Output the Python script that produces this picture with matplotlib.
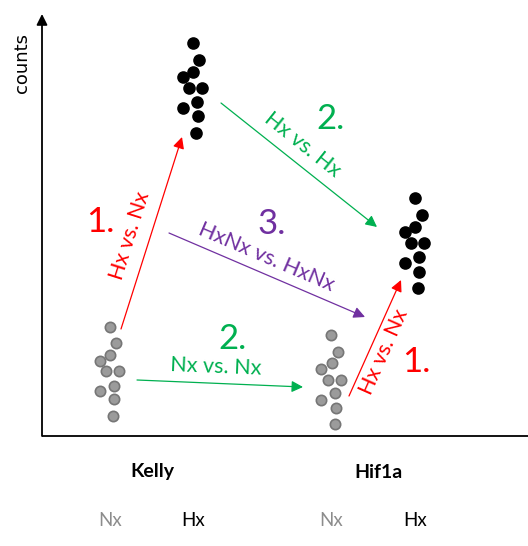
import matplotlib
matplotlib.use("Agg")
import matplotlib.pyplot as plt

plt.rcParams['font.family'] = ['Lato', 'DejaVu Sans']

# ---- data ----
groups = ["Kelly", "Hif1a"]
conditions = ["Nx", "Hx"]
group_centers = {"Kelly": (68, 151), "Hif1a": (289, 373)}

kelly_nx_offset = [0, 6, 0, -10, -4, 9, 4, -10, 4, 3]
kelly_nx_counts = [109, 93, 81, 75, 65, 65, 50, 45, 37, 20]
kelly_hx_offset = [0, 6, 0, -10, -4, 9, 4, -10, 5, 3]
kelly_hx_counts = [393, 376, 364, 359, 348, 348, 334, 328, 320, 303]
hif_nx_offset = [0, 7, 1, -10, -3, 10, 4, -10, 5, 4]
hif_nx_counts = [101, 84, 73, 67, 56, 56, 43, 36, 28, 12]
hif_hx_offset = [0, 7, 0, -10, -4, 9, 4, -10, 4, 3]
hif_hx_counts = [238, 221, 209, 204, 193, 193, 179, 173, 164, 148]

comp_labels = ["Hx vs. Nx", "Hx vs. Hx", "HxNx vs. HxNx", "Nx vs. Nx", "Hx vs. Nx"]
comp_numbers = ["1.", "2.", "3.", "2.", "1."]

W, H = 528, 546
fig = plt.figure(figsize=(5.28, 5.46), dpi=100)
ax = fig.add_axes([42 / W, (546 - 436) / H, (528 - 42) / W, (436 - 14) / H])
ax.set_xlim(0, 486)
ax.set_ylim(0, 422)
ax.axis('off')

gray_face = '#9b9b9b'
gray_edge = '#767676'

def dots(center, offs, counts, face, edge, s):
    ax.scatter([center + o for o in offs], counts, s=s, c=face,
               edgecolors=edge, linewidths=1.2, zorder=3, clip_on=False)

dots(group_centers["Kelly"][0], kelly_nx_offset, kelly_nx_counts, gray_face, gray_edge, 55)
dots(group_centers["Kelly"][1], kelly_hx_offset, kelly_hx_counts, 'black', 'black', 62)
dots(group_centers["Hif1a"][0], hif_nx_offset, hif_nx_counts, gray_face, gray_edge, 55)
dots(group_centers["Hif1a"][1], hif_hx_offset, hif_hx_counts, 'black', 'black', 62)

# axes
ax.annotate('', xy=(0, 422), xytext=(0, 0), annotation_clip=False,
            arrowprops=dict(arrowstyle='-|>', color='black', lw=1.3,
                            mutation_scale=16, shrinkA=0, shrinkB=0))
ax.plot([0, 490], [0, 0], color='black', lw=1.3, clip_on=False, solid_capstyle='butt')

red = '#ff0000'
green = '#00b050'
purple = '#7030a0'

arrows = [
    ((79, 107), (140, 299), red),
    ((179, 333), (335, 209), green),
    ((127, 203), (323, 119), purple),
    ((95, 56), (261, 49), green),
    ((307, 40), (359, 156), red),
]
for (s, e, col) in arrows:
    ax.annotate('', xy=e, xytext=s, annotation_clip=False,
                arrowprops=dict(arrowstyle='-|>', color=col, lw=0.9,
                                mutation_scale=17, shrinkA=0, shrinkB=0))

label_pos = [(88, 200, 72.4), (260, 291, -38.5), (224, 179, -23.2), (174, 69, -2.3), (342, 84, 66)]
label_cols = [red, green, purple, green, red]
for (x, y, r), txt, col in zip(label_pos, comp_labels, label_cols):
    ax.text(x, y, txt, color=col, fontsize=15.5, rotation=r, rotation_mode='anchor',
            ha='center', va='center', clip_on=False)

num_pos = [(58, 214), (288, 317), (230, 212), (191, 97), (374, 74)]
for (x, y), txt, col in zip(num_pos, comp_numbers, label_cols):
    ax.text(x, y, txt, color=col, fontsize=25, ha='center', va='center', clip_on=False)

# axis label
ax.text(-20, 373, 'counts', rotation=90, fontsize=13, family='DejaVu Sans',
        ha='center', va='center', clip_on=False)

# group labels
kelly_mid = 110
hif_mid = 336
ax.text(kelly_mid, -36, groups[0], fontsize=14, fontweight='bold', ha='center', va='center', clip_on=False)
ax.text(hif_mid, -36, groups[1], fontsize=14, fontweight='bold', ha='center', va='center', clip_on=False)

cond_cols = ['#8c8c8c', 'black']
for g in groups:
    for cx, cond, cc in zip(group_centers[g], conditions, cond_cols):
        ax.text(cx, -84, cond, fontsize=13.5, color=cc, ha='center', va='center', clip_on=False)

fig.savefig('out.png', dpi=100)
